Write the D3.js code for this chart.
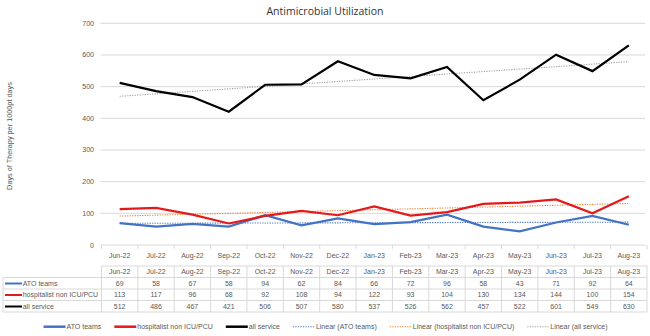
<!DOCTYPE html>
<html>
<head>
<meta charset="utf-8">
<script src="https://cdn.jsdelivr.net/npm/d3@7"></script>
<style>
  body { margin: 0; background: #fff; }
  svg { display: block; font-family: "Liberation Sans", Arial, sans-serif; }
</style>
</head>
<body>
<div id="chart"></div>
<script>
var months = ["Jun-22","Jul-22","Aug-22","Sep-22","Oct-22","Nov-22","Dec-22","Jan-23","Feb-23","Mar-23","Apr-23","May-23","Jun-23","Jul-23","Aug-23"];
var atoTeams = [69, 58, 67, 58, 94, 62, 84, 66, 72, 96, 58, 43, 71, 92, 64];
var hospitalist = [113, 117, 96, 68, 92, 108, 94, 122, 93, 104, 130, 134, 144, 100, 154];
var allService = [512, 486, 467, 421, 506, 507, 580, 537, 526, 562, 457, 522, 601, 549, 630];
var yTicks = [0, 100, 200, 300, 400, 500, 600, 700];

var series = [
  { name: "ATO teams", values: atoTeams, color: "#4472c4", trend: "#4472c4" },
  { name: "hospitalist non ICU/PCU", values: hospitalist, color: "#e31a1c", trend: "#ed7d31" },
  { name: "all service", values: allService, color: "#000000", trend: "#a0a0a0" }
];

var width = 650, height = 336;
var fs = "7px";
var svg = d3.select("#chart").append("svg").attr("width", width).attr("height", height);

var left = 101.5, right = 647;
var x = d3.scaleBand().domain(months).range([left, right]);
var y = d3.scaleLinear().domain([0, 700]).range([245, 23.3]);
var cx = function(i){ return x(months[i]) + x.bandwidth() / 2; };

// title
svg.append("text").attr("x", 325).attr("y", 15).attr("text-anchor", "middle")
  .style("font-family", "'Open Sans', sans-serif")
  .style("font-size", "10.5px").style("fill", "#333").text("Antimicrobial Utilization");

// y title
svg.append("text").attr("transform", "translate(12,136) rotate(-90)")
  .attr("text-anchor", "middle").style("font-size", "7.3px").style("fill", "#595959")
  .text("Days of Therapy per 1000pt days");

// grid
svg.append("g").selectAll("line").data(yTicks).enter().append("line")
  .attr("x1", left - 1).attr("x2", 645)
  .attr("y1", function(d){ return y(d); }).attr("y2", function(d){ return y(d); })
  .attr("stroke", "#d9d9d9").attr("stroke-width", 1);

svg.append("g").selectAll("text").data(yTicks).enter().append("text")
  .attr("x", 94).attr("y", function(d){ return y(d) + 2.5; })
  .attr("text-anchor", "end").style("font-size", fs).style("fill", "#595959")
  .text(function(d){ return d; });

// x ticks
svg.append("g").selectAll("line").data(d3.range(months.length + 1)).enter().append("line")
  .attr("x1", function(i){ return left + i * x.bandwidth(); })
  .attr("x2", function(i){ return left + i * x.bandwidth(); })
  .attr("y1", 245).attr("y2", 249).attr("stroke", "#d9d9d9");

svg.append("g").selectAll("text").data(months).enter().append("text")
  .attr("x", function(d, i){ return cx(i); }).attr("y", 257.5)
  .attr("text-anchor", "middle").style("font-size", fs).style("fill", "#595959")
  .text(function(d){ return d; });

// trend lines (least squares, like Excel's linear trendline)
function fit(vals) {
  var n = vals.length, xs = d3.range(n);
  var mx = d3.mean(xs), my = d3.mean(vals);
  var num = d3.sum(xs, function(i){ return (i - mx) * (vals[i] - my); });
  var den = d3.sum(xs, function(i){ return (i - mx) * (i - mx); });
  var b = num / den, a = my - b * mx;
  return [a, a + b * (n - 1)];
}

var line = d3.line().x(function(d, i){ return cx(i); }).y(function(d){ return y(d); });

series.forEach(function(s){
  var f = fit(s.values);
  svg.append("line")
    .attr("x1", cx(0)).attr("x2", cx(s.values.length - 1))
    .attr("y1", y(f[0])).attr("y2", y(f[1]))
    .attr("stroke", s.trend).attr("stroke-width", 1.1).attr("stroke-dasharray", "1.2,1.3");
});

series.forEach(function(s){
  svg.append("path").datum(s.values).attr("d", line)
    .attr("fill", "none").attr("stroke", s.color).attr("stroke-width", 2.2)
    .attr("stroke-linejoin", "miter");
});

// data table
var rowTop = 266, rowH = 11.5;
var tbl = svg.append("g").style("font-size", fs).style("fill", "#595959");
var grey = "#d9d9d9";
tbl.append("line").attr("x1", left).attr("x2", right).attr("y1", rowTop).attr("y2", rowTop).attr("stroke", grey);
d3.range(1, 5).forEach(function(k){
  tbl.append("line").attr("x1", 3).attr("x2", right)
    .attr("y1", rowTop + k * rowH).attr("y2", rowTop + k * rowH).attr("stroke", grey);
});
tbl.append("line").attr("x1", 3).attr("x2", 3).attr("y1", rowTop + rowH).attr("y2", rowTop + 4 * rowH).attr("stroke", grey);
d3.range(months.length + 1).forEach(function(i){
  var xx = left + i * x.bandwidth();
  tbl.append("line").attr("x1", xx).attr("x2", xx).attr("y1", rowTop).attr("y2", rowTop + 4 * rowH).attr("stroke", grey);
});
tbl.selectAll("text.h").data(months).enter().append("text").attr("class", "h")
  .attr("x", function(d, i){ return cx(i); }).attr("y", rowTop + rowH - 3.2)
  .attr("text-anchor", "middle").text(function(d){ return d; });

series.forEach(function(s, r){
  var ty = rowTop + (r + 2) * rowH - 3.2;
  tbl.append("line").attr("x1", 5).attr("x2", 22).attr("y1", ty - 2.3).attr("y2", ty - 2.3)
    .attr("stroke", s.color).attr("stroke-width", 2);
  tbl.append("text").attr("x", 22.7).attr("y", ty).text(s.name);
  tbl.selectAll(null).data(s.values).enter().append("text")
    .attr("x", function(d, i){ return cx(i); }).attr("y", ty)
    .attr("text-anchor", "middle").text(function(d){ return d; });
});

// legend
var legendItems = series.map(function(s){ return { label: s.name, color: s.color, dotted: false }; })
  .concat(series.map(function(s){ return { label: "Linear (" + s.name + ")", color: s.trend, dotted: true }; }));
var lg = svg.append("g").style("font-size", fs).style("fill", "#595959");
var cur = 0, ly = 329, gap = 13;
legendItems.forEach(function(it){
  var g = lg.append("g");
  g.append("line").attr("x1", 0).attr("x2", 22).attr("y1", -2.3).attr("y2", -2.3)
    .attr("stroke", it.color).attr("stroke-width", it.dotted ? 1.1 : 2.5)
    .attr("stroke-dasharray", it.dotted ? "1.2,1.3" : null);
  var t = g.append("text").attr("x", 23).attr("y", 0).text(it.label);
  var w = 23 + t.node().getComputedTextLength();
  g.attr("transform", "translate(" + cur + "," + ly + ")");
  cur += w + gap;
});
var total = cur - gap;
lg.attr("transform", "translate(" + (325.5 - total / 2) + ",0)");
</script>
</body>
</html>
